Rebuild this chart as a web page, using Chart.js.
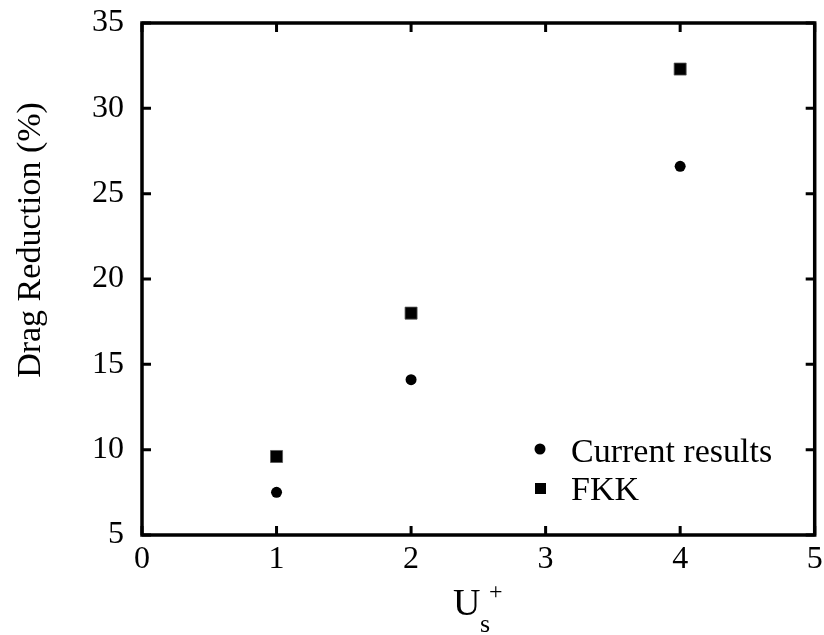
<!DOCTYPE html>
<html>
<head>
<meta charset="utf-8">
<script src="https://cdn.jsdelivr.net/npm/chart.js@4.4.0/dist/chart.umd.min.js"></script>
<style>
html,body{margin:0;padding:0;background:#fff;}
#wrap{width:824px;height:635px;position:relative;}
</style>
</head>
<body>
<div id="wrap"><canvas id="c" width="824" height="635"></canvas></div>
<script>
const usPlus = [1, 2, 4];
const currentResults = [7.5, 14.1, 26.6];
const fkk = [9.6, 18.0, 32.3];
const xTicks = [0, 1, 2, 3, 4, 5];
const yTicks = [5, 10, 15, 20, 25, 30, 35];
const seriesNames = ['Current results', 'FKK'];
const yTitle = 'Drag Reduction (%)';

const FONT = '"Liberation Serif", "Times New Roman", serif';

const framePlugin = {
  id: 'frame',
  afterDraw(chart) {
    const ctx = chart.ctx;
    const a = chart.chartArea;
    const xs = chart.scales.x, ys = chart.scales.y;
    ctx.save();
    ctx.strokeStyle = '#000';
    ctx.lineWidth = 3.5;
    ctx.strokeRect(a.left, a.top, a.right - a.left, a.bottom - a.top);
    // inward ticks
    const tl = 9;
    ctx.lineWidth = 3;
    ctx.beginPath();
    xTicks.forEach(v => {
      const px = xs.getPixelForValue(v);
      ctx.moveTo(px, a.bottom); ctx.lineTo(px, a.bottom - tl);
      ctx.moveTo(px, a.top); ctx.lineTo(px, a.top + tl);
    });
    yTicks.forEach(v => {
      const py = ys.getPixelForValue(v);
      ctx.moveTo(a.left, py); ctx.lineTo(a.left + tl, py);
      ctx.moveTo(a.right, py); ctx.lineTo(a.right - tl, py);
    });
    ctx.stroke();
    // y title
    ctx.fillStyle = '#000';
    ctx.font = '34px ' + FONT;
    ctx.textAlign = 'center';
    ctx.textBaseline = 'alphabetic';
    ctx.translate(40, 240);
    ctx.rotate(-Math.PI / 2);
    ctx.fillText(yTitle, 0, 0);
    ctx.restore();
    // x title U_s^+
    ctx.save();
    ctx.fillStyle = '#000';
    ctx.textBaseline = 'alphabetic';
    ctx.textAlign = 'left';
    ctx.font = '38px ' + FONT;
    ctx.fillText('U', 453, 615);
    ctx.font = '26px ' + FONT;
    ctx.fillText('s', 480, 632);
    ctx.font = '24px ' + FONT;
    ctx.fillText('+', 489, 599);
    ctx.restore();
    // legend
    ctx.save();
    ctx.fillStyle = '#000';
    ctx.font = '34px ' + FONT;
    ctx.textBaseline = 'alphabetic';
    ctx.textAlign = 'left';
    ctx.beginPath();
    ctx.arc(540, 449, 5.5, 0, Math.PI * 2);
    ctx.fill();
    ctx.fillRect(535, 483, 11, 11);
    ctx.fillText(seriesNames[0], 571, 462);
    ctx.fillText(seriesNames[1], 571, 500);
    ctx.restore();
  }
};

new Chart(document.getElementById('c'), {
  type: 'scatter',
  data: {
    datasets: [
      {
        label: seriesNames[0],
        data: usPlus.map((x, i) => ({x, y: currentResults[i]})),
        pointStyle: 'circle',
        pointRadius: 5.5,
        pointHoverRadius: 5.5,
        backgroundColor: '#000',
        borderColor: '#000',
        borderWidth: 0
      },
      {
        label: seriesNames[1],
        data: usPlus.map((x, i) => ({x, y: fkk[i]})),
        pointStyle: 'rect',
        pointRadius: 8.5,
        pointHoverRadius: 8.5,
        backgroundColor: '#000',
        borderColor: '#555',
        borderWidth: 0.8
      }
    ]
  },
  options: {
    responsive: false,
    animation: false,
    events: [],
    layout: { padding: { top: 23, right: 8, left: 0, bottom: 0 } },
    plugins: { legend: { display: false }, tooltip: { enabled: false } },
    scales: {
      x: {
        type: 'linear', min: 0, max: 5,
        afterBuildTicks(s) { s.ticks = xTicks.map(v => ({value: v})); },
        afterFit(s) { s.height = 100; s.paddingLeft = 0; s.paddingRight = 0; },
        grid: { display: false, drawTicks: false },
        border: { display: false },
        ticks: { color: '#000', font: { family: FONT, size: 32 }, padding: 5, maxRotation: 0 }
      },
      y: {
        type: 'linear', min: 5, max: 35,
        afterBuildTicks(s) { s.ticks = yTicks.map(v => ({value: v})); },
        afterFit(s) { s.width = 142; s.paddingTop = 0; s.paddingBottom = 0; },
        grid: { display: false, drawTicks: false },
        border: { display: false },
        ticks: { color: '#000', font: { family: FONT, size: 32 }, padding: 18 }
      }
    }
  },
  plugins: [framePlugin]
});
</script>
</body>
</html>
